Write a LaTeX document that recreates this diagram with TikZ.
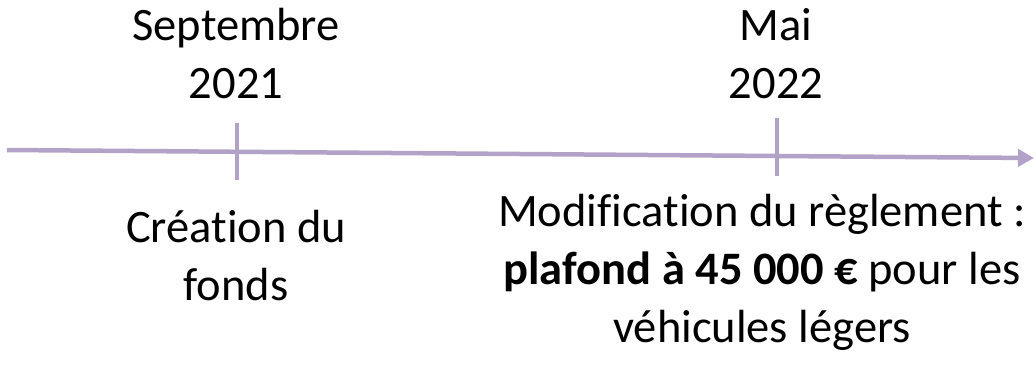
\documentclass[tikz,border=0pt]{standalone}
\usepackage{fontspec}
\setmainfont{Carlito}[Ligatures=NoCommon]
\usepackage{xcolor}
\definecolor{axis}{RGB}{179,162,199}
\usetikzlibrary{arrows.meta}
\usetikzlibrary{positioning}

\begin{document}
\begin{tikzpicture}[x=1bp, y=-1bp,
  every node/.style={inner sep=0pt, align=center, anchor=base, font=\fontsize{46.5bp}{58bp}\selectfont},
  axisline/.style={color=axis, line width=4.5bp}]
  \useasboundingbox (0,0) rectangle (1036,366);

  % Axis
  \coordinate (start) at (7,150);
  \coordinate (end) at (1034,158);
  \draw[axisline, -{Triangle[length=16bp, width=17bp]}] (start) -- (end);

  % Ticks
  \coordinate (sepTop) at (237,123);
  \coordinate (sepBot) at (237,180);
  \coordinate (maiTop) at (777,118);
  \coordinate (maiBot) at (777,176);
  \draw[axisline] (sepTop) -- (sepBot);
  \draw[axisline] (maiTop) -- (maiBot);

  % Dates (anchored on the last line)
  \node (sepDate) at (236,98) {Septembre\\2021};
  \node (maiDate) at (776,98) {Mai\\2022};

  % Events
  \node (creation) at (236,300) {Création du\\fonds};
  \node (reglement) at (762,342) {Modification du règlement :\\\textbf{plafond à 45 000 €} pour les\\véhicules légers};

\end{tikzpicture}
\end{document}
